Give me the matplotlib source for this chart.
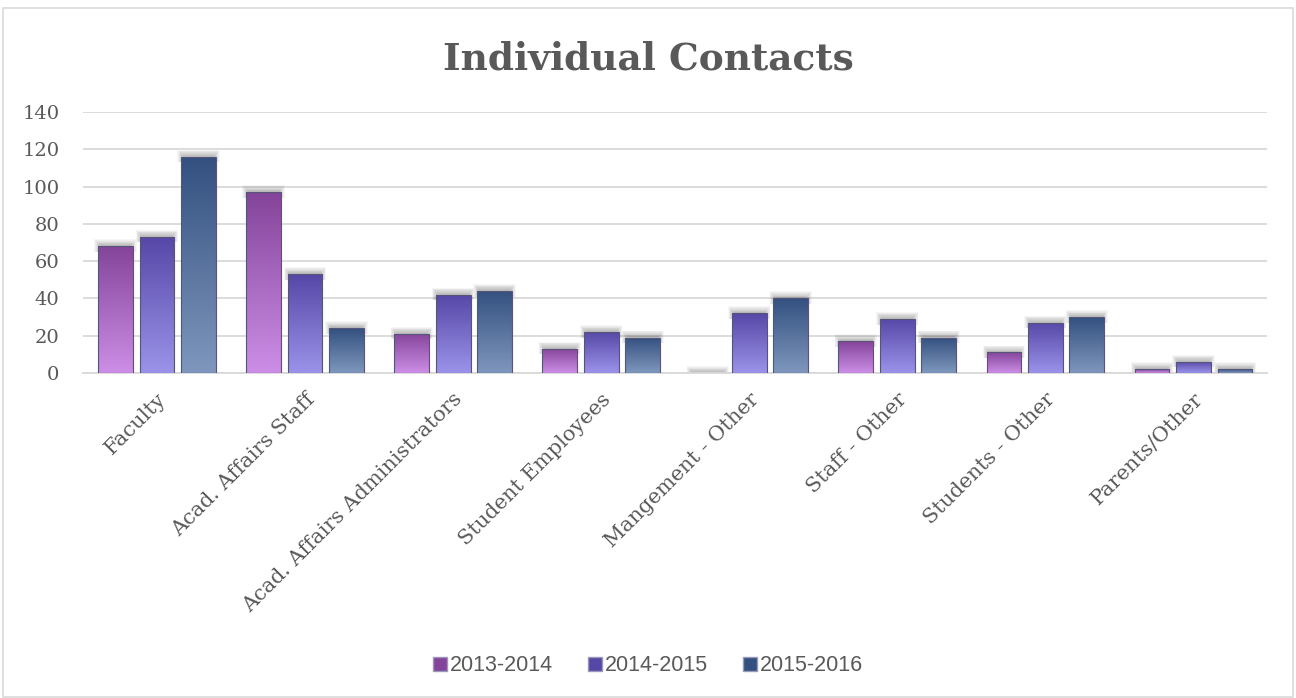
import numpy as np
import matplotlib
matplotlib.use("Agg")
import matplotlib.pyplot as plt
from matplotlib.patches import Rectangle
from matplotlib.colors import LinearSegmentedColormap

categories = ["Faculty", "Acad. Affairs Staff", "Acad. Affairs Administrators",
              "Student Employees", "Mangement - Other", "Staff - Other",
              "Students - Other", "Parents/Other"]
series_names = ["2013-2014", "2014-2015", "2015-2016"]
v2013 = [68, 97, 21, 13, 0, 17, 11, 2]
v2014 = [73, 53, 42, 22, 32, 29, 27, 6]
v2015 = [116, 24, 44, 19, 40, 19, 30, 2]
yticks = [0, 20, 40, 60, 80, 100, 120, 140]

# (top colour, bottom colour)
grads = [("#84449a", "#cc8ee6"), ("#5647a6", "#9b93ea"), ("#33507f", "#7f97bd")]
text_col = "#595959"

fig = plt.figure(figsize=(12.96, 6.98), dpi=100)
ax = fig.add_axes([0.064, 0.4656, 0.914, 0.374])
ax.set_xlim(-0.5, len(categories) - 0.5)
ax.set_ylim(0, 140)

width = 0.235
offs = [-0.28, 0.0, 0.28]
x = np.arange(len(categories))
all_vals = [v2013, v2014, v2015]

for si, vals in enumerate(all_vals):
    top, bot = grads[si]
    cmap = LinearSegmentedColormap.from_list("g%d" % si, [bot, top])
    grad = np.linspace(0, 1, 256).reshape(-1, 1)
    for xi, v in zip(x, vals):
        x0 = xi + offs[si] - width / 2
        # soft shadow above bar top
        for k in range(8):
            sh = Rectangle((x0 + 0.01 - 0.005 * k, max(v - 3, 0)),
                           width - 0.02 + 0.01 * k, min(v, 3) + 0.6 + 0.45 * k,
                           facecolor="black", alpha=0.035, edgecolor="none", zorder=2)
            ax.add_patch(sh)
        if v <= 0:
            continue
        rect = Rectangle((x0, 0), width, v, facecolor="none",
                         edgecolor="#55557a", linewidth=0.8, zorder=4)
        ax.add_patch(rect)
        im = ax.imshow(grad, extent=(x0, x0 + width, 0, v), origin="lower",
                       cmap=cmap, aspect="auto", zorder=3, interpolation="bilinear")
        im.set_clip_path(rect)

ax.set_xlim(-0.5, len(categories) - 0.5)
ax.set_ylim(0, 140)
ax.set_yticks(yticks)
ax.set_yticklabels([str(t) for t in yticks], fontsize=14, color=text_col,
                   family="DejaVu Serif")
ax.yaxis.grid(True, color="#d9d9d9", linewidth=1.3, zorder=0)
ax.set_axisbelow(True)
ax.tick_params(axis="y", length=0, pad=17)
ax.tick_params(axis="x", length=0, pad=12)
ax.set_xticks(x)
ax.set_xticklabels(categories, rotation=45, ha="right", rotation_mode="anchor",
                   fontsize=15, color=text_col, family="DejaVu Serif")
for s in ["top", "right", "left"]:
    ax.spines[s].set_visible(False)
ax.spines["bottom"].set_color("#d9d9d9")
ax.spines["bottom"].set_linewidth(1.3)

fig.text(0.5, 0.915, "Individual Contacts", ha="center", va="center",
         fontsize=27, fontweight="bold", color=text_col, family="DejaVu Serif")

# legend
handles = [Rectangle((0, 0), 1, 1, facecolor=grads[i][0], edgecolor="#9999bb")
           for i in range(3)]
fig.legend(handles, series_names, loc="center", bbox_to_anchor=(0.5, 0.046),
           ncol=3, frameon=False, prop={"family": "Liberation Sans", "size": 15.5},
           labelcolor=text_col, handlelength=0.65, handleheight=0.65,
           handletextpad=0.15, columnspacing=1.6)

# outer frame
fig.patches.append(Rectangle((0.002, 0.002), 0.996, 0.986, transform=fig.transFigure,
                             facecolor="none", edgecolor="#d9d9d9", linewidth=1.2))

fig.savefig("out.png", dpi=100)
